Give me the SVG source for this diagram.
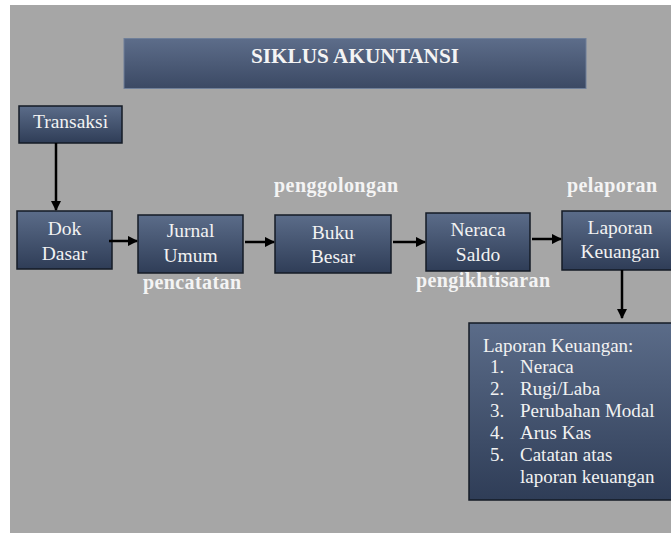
<svg xmlns="http://www.w3.org/2000/svg" width="671" height="533" viewBox="0 0 671 533">
<defs>
<linearGradient id="g" x1="0" y1="0" x2="0" y2="1">
<stop offset="0" stop-color="#5b6c89"/>
<stop offset="1" stop-color="#2f3d57"/>
</linearGradient>
<linearGradient id="gt" x1="0" y1="0" x2="0" y2="1">
<stop offset="0" stop-color="#5d6d8a"/>
<stop offset="1" stop-color="#3b4964"/>
</linearGradient>
<marker id="ah" viewBox="0 0 10 10" refX="9" refY="5" markerWidth="4.2" markerHeight="4.2" orient="auto" markerUnits="strokeWidth">
<path d="M0,0 L10,5 L0,10 z" fill="#000"/>
</marker>
</defs>
<style>
.box{fill:url(#g);stroke:#151b26;stroke-width:1.5}
.t{font-family:"Liberation Serif","Times New Roman",serif;fill:#f2f2f2;font-size:19.5px;text-anchor:middle}
.lb{font-family:"Liberation Serif","Times New Roman",serif;fill:#f4f4f4;font-size:20px;font-weight:bold;text-anchor:middle}
.li{font-family:"Liberation Serif","Times New Roman",serif;fill:#f2f2f2;font-size:19px}
.c line{stroke:#000;stroke-width:2.5;marker-end:url(#ah)}
</style>
<rect x="0" y="0" width="671" height="533" fill="#ffffff"/>
<rect x="10" y="5" width="661" height="528" fill="#a6a6a6"/>

<g id="title">
<rect x="124" y="38.5" width="462" height="50" fill="url(#gt)" stroke="#6f7f99" stroke-width="1"/>
<text x="355" y="63" class="lb" font-size="18" textLength="208" lengthAdjust="spacingAndGlyphs">SIKLUS AKUNTANSI</text>
</g>

<g id="transaksi">
<rect class="box" x="19" y="106" width="103" height="37"/>
<text class="t" x="70.5" y="128">Transaksi</text>
</g>

<g id="dokdasar">
<rect class="box" x="17" y="211" width="95" height="58"/>
<text class="t" x="64.5" y="235">Dok</text>
<text class="t" x="64.5" y="260">Dasar</text>
</g>

<g id="jurnal">
<rect class="box" x="138" y="215" width="105" height="58"/>
<text class="t" x="190.5" y="237">Jurnal</text>
<text class="t" x="190.5" y="262">Umum</text>
</g>

<g id="bukubesar">
<rect class="box" x="275" y="215" width="116" height="58"/>
<text class="t" x="333" y="239">Buku</text>
<text class="t" x="333" y="263">Besar</text>
</g>

<g id="neraca">
<rect class="box" x="426" y="213" width="104" height="58"/>
<text class="t" x="478" y="236">Neraca</text>
<text class="t" x="478" y="261">Saldo</text>
</g>

<g id="laporan">
<rect class="box" x="562" y="211" width="116" height="59"/>
<text class="t" x="620" y="234">Laporan</text>
<text class="t" x="620" y="258">Keuangan</text>
</g>

<g id="list">
<rect class="box" x="469" y="323" width="209" height="177"/>
<text class="li" x="483" y="352">Laporan Keuangan:</text>
<text class="li" x="490" y="373">1.</text><text class="li" x="520" y="373">Neraca</text>
<text class="li" x="490" y="395">2.</text><text class="li" x="520" y="395">Rugi/Laba</text>
<text class="li" x="490" y="417">3.</text><text class="li" x="520" y="417">Perubahan Modal</text>
<text class="li" x="490" y="439">4.</text><text class="li" x="520" y="439">Arus Kas</text>
<text class="li" x="490" y="461">5.</text><text class="li" x="520" y="461">Catatan atas</text>
<text class="li" x="520" y="483">laporan keuangan</text>
</g>

<g id="labels">
<text class="lb" x="336" y="192" textLength="124" lengthAdjust="spacing">penggolongan</text>
<text class="lb" x="192" y="289" textLength="98" lengthAdjust="spacing">pencatatan</text>
<text class="lb" x="483" y="287" textLength="134" lengthAdjust="spacing">pengikhtisaran</text>
<text class="lb" x="612" y="192" textLength="90" lengthAdjust="spacing">pelaporan</text>
</g>

<g id="connectors" class="c">
<line x1="56" y1="143" x2="56" y2="210"/>
<line x1="109" y1="241" x2="137" y2="241"/>
<line x1="245" y1="242" x2="274" y2="242"/>
<line x1="393" y1="242" x2="425" y2="242"/>
<line x1="532" y1="239" x2="561" y2="239"/>
<line x1="622" y1="270" x2="622" y2="318"/>
</g>
</svg>
